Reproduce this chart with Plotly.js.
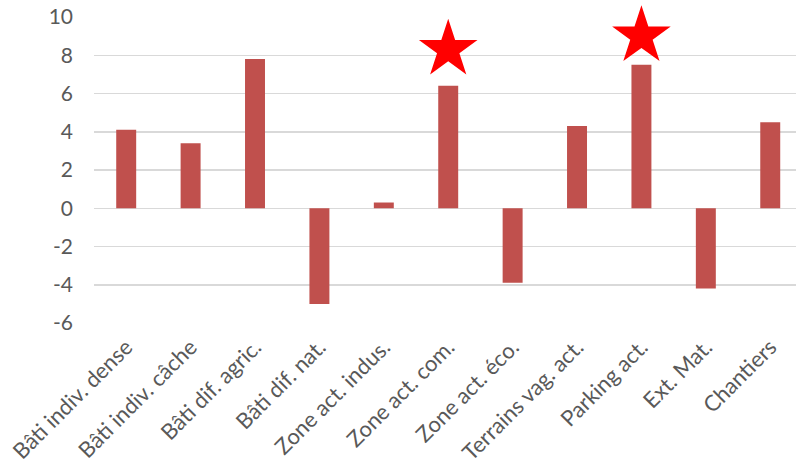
<!DOCTYPE html>
<html>
<head>
<meta charset="utf-8">
<script src="https://cdn.plot.ly/plotly-3.0.1.min.js"></script>
<style>html,body{margin:0;padding:0;background:#fff;}#chart{width:796px;height:471px;}</style>
</head>
<body>
<div id="chart"></div>
<script>
const categories = ["Bâti indiv. dense","Bâti indiv. câche","Bâti dif. agric.","Bâti dif. nat.","Zone act. indus.","Zone act. com.","Zone act. éco.","Terrains vag. act.","Parking act.","Ext. Mat.","Chantiers"];
const values = [4.1, 3.4, 7.8, -5.0, 0.3, 6.4, -3.9, 4.3, 7.5, -4.2, 4.5];
const starCategories = ["Zone act. com.", "Parking act."];
const starValues = [8.3, 9.0];
const yTicks = [-6, -4, -2, 0, 2, 4, 6, 8, 10];

const bars = {
  type: "bar", x: categories, y: values,
  marker: {color: "#c0504d", line: {color: "#c0504d", width: 0}},
  hoverinfo: "skip"
};
const stars = {
  type: "scatter", mode: "markers", x: starCategories, y: starValues,
  marker: {symbol: "star", size: 44, color: "#ff0000", line: {width: 0}},
  cliponaxis: false, hoverinfo: "skip"
};
const layout = {
  width: 796, height: 471,
  margin: {l: 94, r: 0, t: 17, b: 148},
  paper_bgcolor: "#fff", plot_bgcolor: "#fff",
  showlegend: false, bargap: 0.69,
  font: {family: "Lato, 'Open Sans', sans-serif", color: "#595959", size: 21},
  xaxis: {
    type: "category", range: [-0.5, 10.4], tickangle: -45,
    showgrid: false, zeroline: false, showline: false, ticks: "",
    ticklabelstandoff: 6, tickfont: {size: 22, color: "#595959"}
  },
  yaxis: {
    range: [-6, 10], tickvals: yTicks, ticktext: yTicks.map(String),
    showgrid: true, gridcolor: "#d9d9d9", gridwidth: 1.5,
    zeroline: true, zerolinecolor: "#d9d9d9", zerolinewidth: 1.5,
    showline: false, ticks: "", ticklabelstandoff: 20,
    tickfont: {size: 21, color: "#595959"}
  }
};
Plotly.newPlot("chart", [bars, stars], layout, {displayModeBar: false, staticPlot: true});
</script>
</body>
</html>
